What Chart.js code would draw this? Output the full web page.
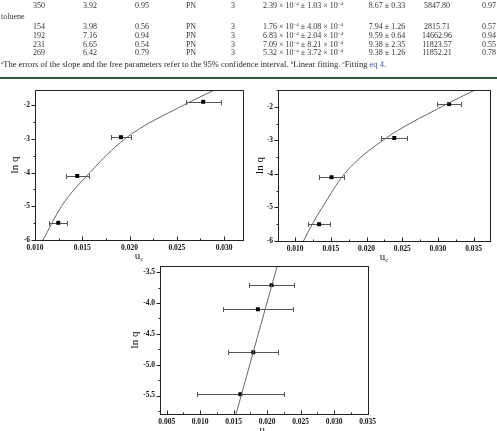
<!DOCTYPE html>
<html>
<head>
<meta charset="utf-8">
<script src="https://cdn.jsdelivr.net/npm/chart.js@4.4.1/dist/chart.umd.min.js"></script>
<style>
  body { margin: 0; background: #fff; width: 497px; height: 431px; overflow: hidden; position: relative; font-family: "Liberation Serif", serif; }
  .cell { position: absolute; transform: translate(-50%, -50%); white-space: nowrap; font-size: 8px; color: #333; line-height: 1; will-change: transform; }
  .left { transform: translate(0, -50%); }
  sup { font-size: 5px; vertical-align: 3px; line-height: 0; }
  #note { position: absolute; left: 1px; top: 64px; transform: translate(0, -50%); font-size: 8.5px; color: #2a2a2a; white-space: nowrap; will-change: transform; }
  #note .eq { color: #3a5fa8; }
  #rule { position: absolute; left: 0; top: 77px; width: 497px; height: 2px; background: #2e5a3c; }
  canvas { position: absolute; }
</style>
</head>
<body>
<div id="note"><sup>a</sup>The errors of the slope and the free parameters refer to the 95% confidence interval. <sup>b</sup>Linear fitting. <sup>c</sup>Fitting <span class="eq">eq 4</span>.</div>
<div id="rule"></div>
<canvas id="chartA" width="250" height="185" style="left:0px; top:80px"></canvas>
<canvas id="chartB" width="254" height="185" style="left:243px; top:80px"></canvas>
<canvas id="chartC" width="255" height="175" style="left:125px; top:256px"></canvas>
<script>
// filas de la tabla (texto)
const tableRows = [
  ['350', '3.92', '0.95', 'PN', '3', '2.39 × 10<sup>−4</sup> ± 1.03 × 10<sup>−4</sup>', '8.67 ± 0.33', '5847.80', '0.97'],
  ['154', '3.98', '0.56', 'PN', '3', '1.76 × 10<sup>−4</sup> ± 4.08 × 10<sup>−4</sup>', '7.94 ± 1.26', '2815.71', '0.57'],
  ['192', '7.16', '0.94', 'PN', '3', '6.83 × 10<sup>−4</sup> ± 2.04 × 10<sup>−4</sup>', '9.59 ± 0.64', '14662.96', '0.94'],
  ['231', '6.65', '0.54', 'PN', '3', '7.09 × 10<sup>−4</sup> ± 8.21 × 10<sup>−4</sup>', '9.38 ± 2.35', '11823.57', '0.55'],
  ['269', '6.42', '0.79', 'PN', '3', '5.32 × 10<sup>−4</sup> ± 3.72 × 10<sup>−4</sup>', '9.38 ± 1.26', '11852.21', '0.78']
];
const groupLabel = 'toluene';

// gráfica A (arriba izquierda)
const ucA = [0.01246, 0.01447, 0.01909, 0.02779];
const lnqA = [-5.49, -4.10, -2.95, -1.90];
const errA = [0.00097, 0.00123, 0.00104, 0.00185];
const fitUcA = [0.01085, 0.0128, 0.0158, 0.0195, 0.0257, 0.0290];
const fitLnqA = [-6, -5, -4, -3, -2, -1.55];

// gráfica B (arriba derecha)
const ucB = [0.01336, 0.0151, 0.02389, 0.03157];
const lnqB = [-5.50, -4.10, -2.93, -1.92];
const errB = [0.00159, 0.00176, 0.00183, 0.00173];
const fitUcB = [0.01117, 0.0124, 0.0138, 0.0169, 0.0223, 0.0305, 0.0352];
const fitLnqB = [-6, -5.5, -5, -4, -3, -2, -1.5];

// gráfica C (abajo)
const ucC = [0.0160, 0.01793, 0.01862, 0.02067];
const lnqC = [-5.48, -4.80, -4.10, -3.71];
const errC = [0.00648, 0.0037, 0.00522, 0.0034];
const fitUcC = [0.01536, 0.0215];
const fitLnqC = [-5.8, -3.4];

// construir la tabla de texto
const colX = [39, 90, 142, 191, 233, 303, 387, 437, 489];
const rowY = [6, 27, 36, 44.5, 53];
function addCell(html, x, y, cls) {
  const d = document.createElement('div');
  d.className = 'cell' + (cls ? ' ' + cls : '');
  d.innerHTML = html;
  d.style.left = x + 'px';
  d.style.top = y + 'px';
  document.body.appendChild(d);
}
tableRows.forEach((row, r) => {
  row.forEach((txt, c) => addCell(txt, colX[c], rowY[r]));
});
addCell(groupLabel, 1, 17, 'left');

function pts(xs, ys) {
  return xs.map((x, i) => ({ x: x, y: ys[i] }));
}

// marco, marcas, barras de error y títulos de ejes
const originStyle = {
  id: 'originStyle',
  beforeDatasetsDraw(chart) {
    const ds = chart.data.datasets[1];
    const xs = chart.scales.x, ys = chart.scales.y;
    const ctx = chart.ctx;
    ctx.save();
    ctx.strokeStyle = '#555';
    ctx.lineWidth = 1;
    ds.data.forEach((p, i) => {
      const e = ds.xErr[i];
      const x0 = Math.round(xs.getPixelForValue(p.x - e)) + 0.5;
      const x1 = Math.round(xs.getPixelForValue(p.x + e)) + 0.5;
      const y = Math.round(ys.getPixelForValue(p.y)) + 0.5;
      ctx.beginPath();
      ctx.moveTo(x0, y); ctx.lineTo(x1, y);
      ctx.moveTo(x0, y - 2.5); ctx.lineTo(x0, y + 2.5);
      ctx.moveTo(x1, y - 2.5); ctx.lineTo(x1, y + 2.5);
      ctx.stroke();
    });
    ctx.restore();
  },
  afterDraw(chart, args, opts) {
    const ctx = chart.ctx;
    const a = chart.chartArea;
    const xs = chart.scales.x, ys = chart.scales.y;
    ctx.save();
    ctx.strokeStyle = '#222';
    ctx.lineWidth = 1;
    ctx.strokeRect(Math.round(a.left) + 0.5, Math.round(a.top) + 0.5, Math.round(a.right - a.left), Math.round(a.bottom - a.top));
    ctx.beginPath();
    const b = Math.round(a.bottom) + 0.5, l = Math.round(a.left) + 0.5;
    const xStep = xs.options.ticks.stepSize, yStep = ys.options.ticks.stepSize;
    xs.ticks.forEach(t => {
      const px = Math.round(xs.getPixelForValue(t.value)) + 0.5;
      ctx.moveTo(px, b); ctx.lineTo(px, b - 4);
    });
    for (let v = xs.ticks[0].value - xStep / 2; v <= xs.max + 1e-9; v += xStep) {
      if (v < xs.min) continue;
      const px = Math.round(xs.getPixelForValue(v)) + 0.5;
      ctx.moveTo(px, b); ctx.lineTo(px, b - 2);
    }
    ys.ticks.forEach(t => {
      const py = Math.round(ys.getPixelForValue(t.value)) + 0.5;
      ctx.moveTo(l, py); ctx.lineTo(l - 4, py);
    });
    for (let v = ys.ticks[0].value - yStep / 2; v <= ys.max + 1e-9; v += yStep) {
      if (v < ys.min) continue;
      const py = Math.round(ys.getPixelForValue(v)) + 0.5;
      ctx.moveTo(l, py); ctx.lineTo(l - 2, py);
    }
    ctx.stroke();

    // títulos de los ejes
    ctx.fillStyle = '#111';
    ctx.font = '11px "Liberation Serif"';
    ctx.textAlign = 'center';
    ctx.textBaseline = 'middle';
    ctx.save();
    ctx.translate(a.left - opts.yTitleGap, (a.top + a.bottom) / 2);
    ctx.rotate(-Math.PI / 2);
    ctx.fillText('ln q', 0, 0);
    ctx.restore();
    const wu = ctx.measureText('u').width;
    ctx.font = '7px "Liberation Serif"';
    const wc = ctx.measureText('c').width;
    const cx = (a.left + a.right) / 2 - (wu + wc) / 2;
    const cy = a.bottom + opts.xTitleGap;
    ctx.textAlign = 'left';
    ctx.font = '11px "Liberation Serif"';
    ctx.fillText('u', cx, cy);
    ctx.font = '7px "Liberation Serif"';
    ctx.fillText('c', cx + wu, cy + 3);
    ctx.restore();
  }
};

const tickFont = { family: 'Liberation Serif', size: 7.5, weight: 'bold' };

function makeChart(id, s) {
  return new Chart(document.getElementById(id), {
    type: 'scatter',
    data: {
      datasets: [{
        data: pts(s.fitX, s.fitY),
        showLine: true,
        borderColor: '#666',
        borderWidth: 1,
        pointRadius: 0,
        cubicInterpolationMode: 'monotone'
      }, {
        data: pts(s.x, s.y),
        xErr: s.err,
        pointStyle: 'rect',
        pointRadius: 2.8,
        backgroundColor: '#000',
        borderColor: '#000',
        borderWidth: 0
      }]
    },
    options: {
      responsive: false,
      animation: false,
      devicePixelRatio: 1,
      layout: { padding: { left: 0, top: 10, right: s.padRight, bottom: 0 } },
      plugins: {
        legend: { display: false },
        tooltip: { enabled: false },
        originStyle: { yTitleGap: s.yTitleGap, xTitleGap: 16 }
      },
      scales: {
        x: {
          type: 'linear',
          min: s.xMin, max: s.xMax,
          grid: { display: false, drawTicks: false },
          border: { display: false },
          ticks: {
            stepSize: 0.005, includeBounds: false, padding: 4, color: '#111', font: tickFont,
            maxRotation: 0, autoSkip: false,
            callback: v => v.toFixed(3)
          },
          afterFit: sc => { sc.height = s.xHeight; }
        },
        y: {
          type: 'linear',
          min: s.yMin, max: s.yMax,
          grid: { display: false, drawTicks: false },
          border: { display: false },
          ticks: {
            stepSize: s.yStep, includeBounds: false, padding: 5, color: '#111', font: tickFont,
            autoSkip: false,
            callback: v => v.toFixed(s.yDec)
          },
          afterFit: sc => { sc.width = 35; }
        }
      }
    },
    plugins: [originStyle]
  });
}

makeChart('chartA', {
  x: ucA, y: lnqA, err: errA, fitX: fitUcA, fitY: fitLnqA,
  xMin: 0.010, xMax: 0.032, yMin: -6, yMax: -1.55, yStep: 1, yDec: 0,
  padRight: 7, xHeight: 25, yTitleGap: 20
});
makeChart('chartB', {
  x: ucB, y: lnqB, err: errB, fitX: fitUcB, fitY: fitLnqB,
  xMin: 0.0076, xMax: 0.0373, yMin: -6, yMax: -1.5, yStep: 1, yDec: 0,
  padRight: 7, xHeight: 24, yTitleGap: 18
});
makeChart('chartC', {
  x: ucC, y: lnqC, err: errC, fitX: fitUcC, fitY: fitLnqC,
  xMin: 0.004, xMax: 0.035, yMin: -5.8, yMax: -3.4, yStep: 0.5, yDec: 1,
  padRight: 9, xHeight: 17, yTitleGap: 25
});
</script>
</body>
</html>
